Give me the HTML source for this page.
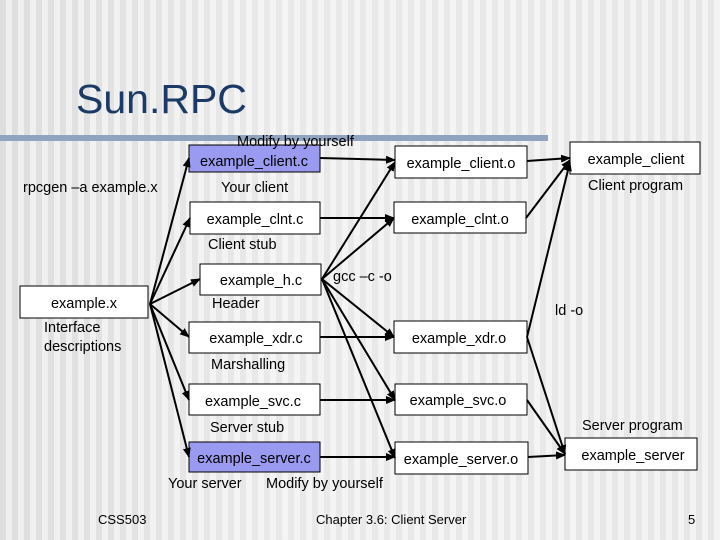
<!DOCTYPE html>
<html><head><meta charset="utf-8"><style>
html,body{margin:0;padding:0;}
body{width:720px;height:540px;overflow:hidden;background:repeating-linear-gradient(90deg,#dedede 0 6px,#efefef 6px 12px);}
svg{position:absolute;left:0;top:0;}
text{font-family:"Liberation Sans",sans-serif;fill:#000;}
</style></head><body>
<div style="position:absolute;left:0;top:0;width:720px;height:540px;background:linear-gradient(90deg,rgba(255,255,255,0) 0,rgba(255,255,255,0.35) 40%,rgba(255,255,255,0.25) 100%)"></div>
<svg width="720" height="540" viewBox="0 0 720 540">
<defs><marker id="a" markerWidth="10" markerHeight="8" refX="9" refY="4" orient="auto" markerUnits="userSpaceOnUse"><path d="M0,0 L10,4 L0,8 z" fill="#000"/></marker></defs>
<text x="76" y="113" style="font-size:41px;fill:#1b3a66">Sun.RPC</text>
<rect x="0" y="135" width="548" height="6" fill="#90a4c0"/>
<g stroke="#000" stroke-width="1" fill="#fff">
<rect x="189" y="145" width="131" height="27" fill="#9a9af0"/>
<rect x="395" y="146" width="132" height="32"/>
<rect x="570" y="142" width="130" height="32"/>
<rect x="190" y="202" width="130" height="32"/>
<rect x="394" y="202" width="132" height="31"/>
<rect x="200" y="264" width="121" height="31"/>
<rect x="20" y="286" width="128" height="32"/>
<rect x="189" y="322" width="131" height="31"/>
<rect x="394" y="321" width="133" height="32"/>
<rect x="189" y="384" width="131" height="31"/>
<rect x="395" y="384" width="132" height="31"/>
<rect x="189" y="442" width="131" height="30" fill="#9a9af0"/>
<rect x="395" y="442" width="133" height="32"/>
<rect x="565" y="438" width="132" height="32"/>
</g>
<g stroke="#000" stroke-width="2" marker-end="url(#a)" fill="none">
<line x1="150" y1="304" x2="189" y2="158"/>
<line x1="150" y1="304" x2="190" y2="218"/>
<line x1="150" y1="304" x2="200" y2="279"/>
<line x1="150" y1="304" x2="189" y2="337"/>
<line x1="150" y1="304" x2="189" y2="400"/>
<line x1="150" y1="304" x2="189" y2="457"/>
<line x1="320" y1="158" x2="395" y2="160"/>
<line x1="320" y1="218" x2="394" y2="218"/>
<line x1="320" y1="337" x2="394" y2="337"/>
<line x1="320" y1="400" x2="395" y2="400"/>
<line x1="320" y1="457" x2="395" y2="457"/>
<line x1="528" y1="457" x2="565" y2="455"/>
<line x1="322" y1="279" x2="395" y2="162"/>
<line x1="322" y1="279" x2="394" y2="218"/>
<line x1="322" y1="279" x2="394" y2="337"/>
<line x1="322" y1="279" x2="395" y2="400"/>
<line x1="322" y1="279" x2="395" y2="458"/>
<line x1="527" y1="161" x2="570" y2="158"/>
<line x1="526" y1="218" x2="570" y2="160"/>
<line x1="527" y1="337" x2="570" y2="162"/>
<line x1="527" y1="337" x2="565" y2="454"/>
<line x1="527" y1="400" x2="565" y2="454"/>
</g>
<g style="font-size:14.5px" text-anchor="middle">
<text x="254" y="166">example_client.c</text>
<text x="461" y="168">example_client.o</text>
<text x="636" y="164">example_client</text>
<text x="255" y="224">example_clnt.c</text>
<text x="460" y="224">example_clnt.o</text>
<text x="261" y="285">example_h.c</text>
<text x="84" y="308">example.x</text>
<text x="256" y="343">example_xdr.c</text>
<text x="459" y="343">example_xdr.o</text>
<text x="253" y="406">example_svc.c</text>
<text x="458" y="405">example_svc.o</text>
<text x="254" y="463">example_server.c</text>
<text x="461" y="464">example_server.o</text>
<text x="633" y="460">example_server</text>
</g>
<g style="font-size:14.5px">
<text x="237" y="146">Modify by yourself</text>
<text x="23" y="192">rpcgen –a example.x</text>
<text x="221" y="192">Your client</text>
<text x="588" y="190">Client program</text>
<text x="208" y="249">Client stub</text>
<text x="333" y="281">gcc –c -o</text>
<text x="212" y="308">Header</text>
<text x="44" y="332">Interface</text>
<text x="44" y="351">descriptions</text>
<text x="555" y="315">ld -o</text>
<text x="211" y="369">Marshalling</text>
<text x="210" y="432">Server stub</text>
<text x="582" y="430">Server program</text>
<text x="168" y="488">Your server</text>
<text x="266" y="488">Modify by yourself</text>
</g>
<g style="font-size:13px">
<text x="98" y="524">CSS503</text>
<text x="316" y="524">Chapter 3.6: Client Server</text>
<text x="688" y="524">5</text>
</g>
</svg>
</body></html>
